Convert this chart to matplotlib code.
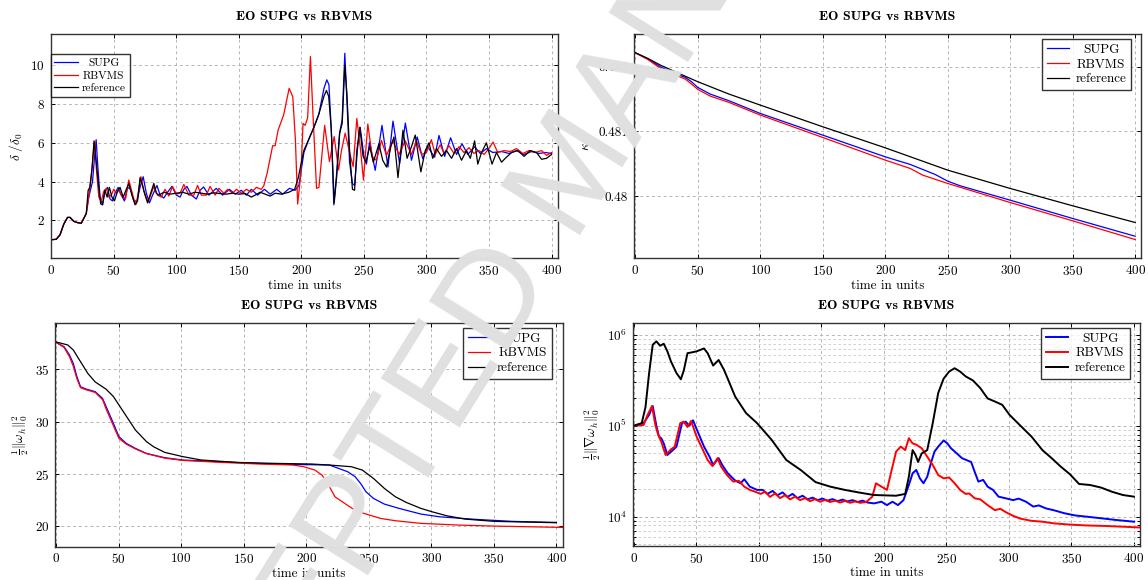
import matplotlib
matplotlib.use('Agg')
import matplotlib.pyplot as plt
import numpy as np
from matplotlib.ticker import LogLocator, NullFormatter

plt.rcParams.update({'font.size': 9.5, 'font.family': 'cmr10', 'mathtext.fontset': 'cm',
                     'axes.formatter.use_mathtext': True, 'axes.unicode_minus': False})

title = 'EO SUPG vs RBVMS'
xlab = 'time in units'
names = ['SUPG', 'RBVMS', 'reference']
colors = ['#0000ff', '#ff0000', '#000000']

# delta / delta_0  (time, value)
delta_supg = [(0, 1.0), (4, 1.02), (7, 1.25), (10, 1.8), (13, 2.15), (15, 2.15), (18, 1.95), (21, 1.88), (24, 1.85),
              (26, 2.1), (28, 2.35), (30, 3.2), (31.5, 3.6), (33, 4.0), (34.5, 5.2), (35.9, 6.16), (37, 5.0), (39, 3.2),
              (41, 2.8), (43, 3.5), (45, 3.7), (47, 3.1), (49, 3.0), (51, 3.4), (53.5, 3.7), (56, 3.3), (58.5, 3.0),
              (61, 3.7), (63.5, 3.6), (66, 3.0), (68.5, 3.0), (71, 3.7), (73.5, 4.25), (76, 3.4), (78.5, 2.9), (81, 3.3),
              (84.5, 3.8), (87, 3.3), (90, 3.15), (93, 3.45), (96.5, 3.75), (100, 3.3), (103, 3.2), (106, 3.6),
              (108.5, 3.75), (112, 3.3), (116, 3.1), (119, 3.55), (121.8, 3.72), (126, 3.3), (131.9, 3.65), (137, 3.3),
              (142.5, 3.6), (147, 3.35), (151.9, 3.55), (156, 3.3), (160, 3.6), (165, 3.3), (170.5, 3.6), (175, 3.35),
              (180.3, 3.6), (185, 3.35), (190.4, 3.65), (195, 3.55), (198, 3.8), (202, 5.5), (206, 6.2), (210, 6.8),
              (214, 7.5), (218, 8.8), (220.3, 9.25), (222, 9.0), (224, 6.5), (225.9, 2.8), (228, 4.3), (230.5, 6.5),
              (232.6, 7.2), (234.7, 10.62), (236.5, 8.0), (238.5, 5.0), (240.8, 3.9), (242.5, 3.8), (245, 5.8),
              (247, 6.8), (250, 5.3), (252, 4.9), (254.5, 6.04), (259, 4.58), (264.4, 6.9), (269.2, 4.75), (273.2, 7.12),
              (278.5, 4.92), (283.1, 7.02), (288, 5.1), (292.6, 6.3), (297, 5.18), (301, 5.8), (304, 5.5), (306.5, 5.26),
              (310, 6.38), (314.5, 5.3), (319.3, 6.26), (324, 5.4), (328.4, 5.95), (333, 5.4), (338.5, 5.8), (343, 5.45),
              (348, 5.7), (353, 5.5), (360, 5.55), (366, 5.45), (372, 5.6), (378, 5.4), (384, 5.55), (390, 5.45),
              (395, 5.5), (400, 5.45)]
delta_rbvms = [(0, 1.0), (4, 1.02), (7, 1.25), (10, 1.8), (13, 2.15), (15, 2.15), (18, 1.95), (21, 1.88), (24, 1.85),
               (26, 2.1), (28, 2.35), (29.5, 3.0), (30.5, 3.5), (32, 4.2), (33.5, 5.4), (34.8, 6.05), (36, 4.7), (38, 3.2),
               (40, 3.0), (42, 3.5), (44, 3.65), (46, 3.2), (48, 3.3), (50, 3.6), (52, 3.4), (54, 3.55), (56, 3.3),
               (59.4, 3.1), (62, 4.08), (64, 3.6), (66, 3.1), (68, 2.84), (71.7, 4.25), (74, 3.5), (77.5, 2.96), (80, 3.4),
               (82, 3.74), (85, 3.3), (88, 3.2), (91, 3.6), (94, 3.25), (97, 3.75), (100, 3.35), (103, 3.4), (106, 3.85),
               (110, 3.3), (114, 3.3), (117, 3.8), (120, 3.3), (124, 3.3), (127, 3.75), (131, 3.3), (134, 3.65),
               (138, 3.4), (141, 3.6), (145, 3.4), (148, 3.6), (152, 3.4), (156, 3.6), (160, 3.45), (164, 3.7),
               (168, 3.6), (170, 3.8), (172.6, 4.43), (177, 5.85), (179, 5.85), (181.4, 6.66), (185.8, 7.44),
               (190.2, 8.81), (193.1, 8.38), (195.2, 6.15), (197, 2.84), (199.6, 4.43), (201.3, 7.0), (203, 6.9),
               (205, 7.3), (207.2, 10.45), (209.2, 7.52), (212.1, 3.65), (214, 3.7), (216.5, 5.46), (218.6, 6.9),
               (220.5, 5.97), (222.4, 5.03), (226.2, 6.32), (229.7, 4.6), (232, 5.6), (235, 6.5), (238.5, 5.5),
               (241.4, 4.77), (244.3, 7.26), (247.3, 5.63), (249.6, 4.08), (253.1, 6.97), (256.6, 5.29), (260, 5.09),
               (264, 6.12), (268, 5.35), (273, 6.1), (278, 5.4), (283, 6.1), (288, 5.4), (292, 6.1), (296, 5.4),
               (300, 5.5), (303.9, 6.16), (307, 5.4), (311, 5.9), (314, 5.45), (318, 5.85), (322, 5.45), (326, 5.8),
               (330, 5.5), (334, 5.75), (338, 5.45), (342, 5.6), (346, 5.4), (350, 5.7), (353.2, 6.04), (357, 5.5),
               (362, 5.6), (367, 5.55), (372, 5.7), (377, 5.45), (382, 5.6), (387, 5.5), (392, 5.6), (396, 5.35),
               (400, 5.5)]
delta_ref = [(0, 1.0), (4, 1.02), (7, 1.25), (10, 1.8), (13, 2.15), (15, 2.15), (18, 1.95), (21, 1.88), (24, 1.85),
             (26, 2.1), (28, 2.35), (29.5, 3.55), (30.8, 3.7), (32.7, 4.75), (34.2, 6.1), (35.5, 5.3), (37.5, 4.0),
             (39.5, 2.85), (41, 2.8), (42.8, 3.55), (44.7, 3.2), (46.5, 3.7), (48.5, 3.2), (50.5, 3.0), (53, 3.5),
             (55, 3.7), (57.5, 3.2), (60, 3.6), (62, 3.9), (64.5, 3.3), (67, 2.8), (69, 3.0), (71, 4.2), (73, 3.8),
             (75, 3.3), (77, 2.9), (80, 3.5), (82, 3.9), (84, 3.4), (86, 3.3), (90, 3.45), (95, 3.35), (100, 3.4),
             (105, 3.45), (110, 3.35), (115, 3.45), (120, 3.4), (125, 3.35), (130, 3.42), (135, 3.38), (140, 3.35),
             (145, 3.4), (150, 3.35), (155, 3.38), (160, 3.2), (163, 3.3), (167, 3.45), (171, 3.35), (175, 3.25),
             (179, 3.4), (184, 3.35), (190, 3.45), (194.6, 3.6), (197.5, 4.2), (201.9, 5.6), (205.7, 6.15), (210, 6.8),
             (213.6, 7.4), (218, 8.4), (220, 8.7), (221.8, 8.4), (223.8, 6.8), (226.2, 2.9), (228.2, 4.25),
             (230.6, 6.5), (232.6, 7.0), (234.7, 10.0), (236.4, 8.5), (238.5, 5.6), (240.8, 3.6), (242.5, 3.55),
             (244.3, 5.6), (246.7, 6.8), (249.3, 5.3), (251.5, 5.0), (254.6, 5.8), (257.5, 5.0), (262, 5.95),
             (265, 5.1), (268, 4.75), (271.5, 5.8), (274, 6.3), (277.2, 4.2), (281.2, 6.65), (284.5, 5.2), (288, 5.8),
             (291, 6.4), (295.5, 4.5), (299, 5.6), (302, 6.0), (305, 5.2), (308, 5.7), (312, 5.3), (316, 5.6),
             (320, 5.2), (324, 5.7), (328, 5.1), (332, 5.6), (335, 5.2), (338.5, 6.1), (341, 4.9), (344, 5.5),
             (347.9, 6.0), (352.4, 4.9), (356, 5.5), (360, 5.0), (363, 5.2), (368, 5.5), (373, 5.6), (378, 5.3),
             (383, 5.6), (388, 5.5), (392, 5.15), (396, 5.2), (400, 5.4)]

# kappa
kappa_supg = [(0, 0.482216), (10, 0.482119), (20, 0.482), (30, 0.481907), (40, 0.481835), (45, 0.481768),
              (50, 0.48168), (60, 0.481577), (75, 0.481474), (100, 0.481278), (150, 0.480943), (200, 0.480608),
              (220, 0.48049), (240, 0.480335), (250, 0.480232), (260, 0.48016), (300, 0.479938), (350, 0.479655),
              (400, 0.479381)]
kappa_rbvms = [(0, 0.482216), (10, 0.482113), (20, 0.481974), (30, 0.481887), (40, 0.481809), (45, 0.481732),
               (50, 0.48165), (60, 0.481546), (75, 0.481448), (100, 0.481253), (150, 0.480907), (200, 0.480557),
               (220, 0.480428), (230, 0.480325), (250, 0.480196), (300, 0.479902), (350, 0.479619), (400, 0.47933)]
kappa_ref = [(0, 0.482216), (10, 0.482129), (20, 0.482026), (30, 0.481938), (50, 0.481768), (75, 0.481577),
             (100, 0.481407), (150, 0.481072), (200, 0.480747), (250, 0.480402), (300, 0.480119), (350, 0.479851),
             (400, 0.479593)]

# 1/2 ||omega_h||^2
ens_supg = [(0, 37.58), (6.4, 37.17), (10.8, 36.37), (13.8, 35.57), (16.7, 34.3), (19.6, 33.34), (24, 33.12),
            (31.3, 32.87), (37.2, 32.23), (40.1, 31.43), (45.9, 29.84), (50.3, 28.57), (56.2, 27.93), (63.5, 27.45),
            (72.3, 26.97), (86.9, 26.56), (101.5, 26.34), (130.8, 26.18), (160, 26.02), (189.3, 25.92),
            (218.6, 25.86), (233.2, 25.22), (239.1, 24.75), (243.5, 24.1), (247.8, 23.31), (253.7, 22.68),
            (262.5, 22.13), (274.2, 21.72), (291.7, 21.18), (306.4, 20.92), (335.6, 20.67), (364.9, 20.48),
            (400, 20.38)]
ens_rbvms = [(0, 37.58), (6.4, 37.1), (10.8, 36.2), (13.8, 35.3), (16.7, 34.1), (19.6, 33.25), (24, 33.05),
             (31.3, 32.8), (37.2, 32.1), (40.1, 31.2), (45.9, 29.6), (50.3, 28.4), (56.2, 27.85), (63.5, 27.4),
             (72.3, 26.95), (86.9, 26.52), (101.5, 26.3), (130.8, 26.12), (160, 25.97), (189.3, 25.86),
             (198.1, 25.7), (206.9, 25.38), (212.7, 24.9), (218.6, 23.79), (223, 22.83), (228.8, 22.36),
             (234.7, 21.88), (240.5, 21.46), (247.8, 21.18), (259.5, 20.76), (271.3, 20.54), (291.7, 20.29),
             (321, 20.13), (350.3, 20.03), (405, 19.9)]
ens_ref = [(0, 37.62), (9.4, 37.33), (13.8, 36.85), (19.6, 35.73), (25.5, 34.6), (31.3, 33.8), (40.1, 33.1),
           (45.9, 32.4), (54.7, 30.8), (63.5, 29.2), (72.3, 28.1), (78.1, 27.6), (86.9, 27.07), (101.5, 26.66),
           (116.2, 26.34), (145.4, 26.11), (174.7, 26.02), (204, 25.96), (218.6, 25.86), (236.1, 25.7),
           (244.9, 25.38), (253.7, 24.59), (262.5, 23.63), (271.3, 22.83), (280, 22.29), (291.7, 21.72),
           (300.5, 21.4), (312.2, 21.02), (326.8, 20.7), (350.3, 20.48), (400, 20.35)]

# 1/2 ||grad omega_h||^2
pal_supg = [(0, 1.0e5), (7.9, 1.07e5), (12.3, 1.32e5), (15.2, 1.65e5), (18.1, 1.0e5), (20.2, 7.6e4), (22, 7.3e4),
            (24, 6.4e4), (26.9, 4.77e4), (31.3, 5.4e4), (34.2, 5.9e4), (38.6, 1.07e5), (41.5, 1.11e5), (44.5, 1.0e5),
            (47.4, 1.15e5), (51.8, 8.2e4), (56.2, 5.9e4), (60.6, 4.57e4), (63.5, 3.7e4), (67.9, 4.4e4), (70.8, 3.7e4),
            (75.2, 3.0e4), (81.1, 2.5e4), (85.4, 2.33e4), (88.4, 2.58e4), (92.8, 2.14e4), (98.6, 1.97e4),
            (103, 1.97e4), (107, 1.78e4), (111, 1.92e4), (115, 1.72e4), (119, 1.85e4), (123, 1.65e4), (127, 1.78e4),
            (131, 1.6e4), (135, 1.7e4), (139, 1.55e4), (143, 1.62e4), (147, 1.52e4), (151, 1.58e4), (155, 1.5e4),
            (159, 1.56e4), (163, 1.48e4), (167, 1.54e4), (171, 1.47e4), (175, 1.52e4), (179, 1.45e4), (183, 1.5e4),
            (187, 1.43e4), (192.2, 1.4e4), (198.1, 1.46e4), (202.5, 1.34e4), (206.9, 1.46e4), (211.3, 1.34e4),
            (215.7, 1.52e4), (220, 2.23e4), (223, 3.0e4), (225.9, 3.27e4), (228.8, 2.64e4), (231.7, 2.33e4),
            (234.7, 2.75e4), (237.6, 3.87e4), (240.5, 5.2e4), (243.5, 5.9e4), (247.8, 6.9e4), (250.8, 6.4e4),
            (253.7, 5.66e4), (258.1, 5.0e4), (262.5, 4.4e4), (266.9, 4.15e4), (269.8, 4.0e4), (272.7, 3.1e4),
            (275.6, 2.43e4), (279.4, 2.54e4), (283, 2.14e4), (287.3, 1.97e4), (291.7, 1.66e4), (297.6, 1.59e4),
            (303.4, 1.52e4), (307.8, 1.58e4), (313.7, 1.46e4), (319.5, 1.29e4), (323.9, 1.33e4), (329.8, 1.23e4),
            (335.6, 1.18e4), (344.4, 1.09e4), (353.2, 1.03e4), (362, 1.0e4), (373.7, 9.6e3), (385.4, 9.2e3),
            (400, 8.8e3)]
pal_rbvms = [(0, 1.0e5), (7.9, 1.02e5), (10.8, 1.29e5), (14.6, 1.65e5), (17.3, 1.02e5), (19.5, 8.0e4), (22, 6.7e4),
             (25.5, 4.77e4), (29.8, 5.5e4), (32.8, 5.9e4), (37.2, 1.07e5), (40.1, 1.11e5), (43, 9.7e4), (45.9, 1.13e5),
             (50.3, 7.6e4), (54.7, 5.66e4), (59.1, 4.2e4), (63, 3.6e4), (67, 4.4e4), (69.9, 3.55e4), (74.6, 2.87e4),
             (79.6, 2.43e4), (84, 2.48e4), (88.4, 2.14e4), (92.8, 1.97e4), (97.1, 1.88e4), (101.5, 1.78e4),
             (105, 1.88e4), (109, 1.65e4), (113, 1.8e4), (117, 1.6e4), (121, 1.72e4), (125, 1.55e4), (129, 1.66e4),
             (133, 1.52e4), (137, 1.6e4), (141, 1.48e4), (145, 1.56e4), (149, 1.46e4), (153, 1.53e4), (157, 1.45e4),
             (161, 1.5e4), (165, 1.43e4), (169, 1.49e4), (173, 1.42e4), (177, 1.47e4), (181, 1.42e4), (186, 1.45e4),
             (190.8, 1.66e4), (193.7, 2.33e4), (198.1, 2.14e4), (202.5, 1.97e4), (206.9, 3.55e4), (209.8, 5.2e4),
             (213.6, 5.9e4), (217.1, 5.4e4), (220, 7.3e4), (223, 6.4e4), (225.9, 6.2e4), (230.3, 5.66e4),
             (234.7, 4.57e4), (239.1, 3.7e4), (243.5, 2.87e4), (247.8, 2.64e4), (252.2, 2.7e4), (256.6, 2.33e4),
             (261, 1.97e4), (265.4, 1.78e4), (268.3, 1.8e4), (272.7, 1.59e4), (277.1, 1.55e4), (283, 1.34e4),
             (288.8, 1.18e4), (293.1, 1.22e4), (297.6, 1.12e4), (303.4, 1.02e4), (309.3, 9.5e3), (318, 9.0e3),
             (326.8, 8.8e3), (335.6, 8.45e3), (347.3, 8.2e3), (362, 8.0e3), (376.6, 7.9e3), (391.2, 7.75e3),
             (405, 7.6e3)]
pal_ref = [(0, 1.0e5), (6.4, 1.07e5), (9.4, 1.6e5), (12.3, 3.8e5), (15.2, 7.8e5), (18.1, 8.5e5), (21.1, 7.6e5),
           (24, 8.0e5), (26.9, 6.6e5), (29.8, 5.1e5), (34.2, 3.8e5), (37.7, 3.25e5), (40.1, 4.1e5), (43, 6.3e5),
           (45.9, 6.4e5), (50.3, 6.6e5), (56.2, 7.1e5), (59.1, 6.3e5), (63.5, 4.6e5), (67.9, 5.3e5), (72.3, 4.1e5),
           (81.1, 2.1e5), (89.8, 1.38e5), (98.6, 1.07e5), (110.3, 7.0e4), (122, 4.2e4), (133.7, 3.25e4),
           (145.4, 2.4e4), (157.1, 2.14e4), (168.8, 1.97e4), (180.5, 1.84e4), (192.2, 1.73e4), (209.8, 1.7e4),
           (217.1, 1.78e4), (220, 2.75e4), (223, 5.4e4), (225.3, 4.77e4), (227.4, 4.0e4), (230.3, 4.97e4),
           (234.7, 5.4e4), (239.1, 1.07e5), (243.5, 2.3e5), (247.8, 3.3e5), (252.2, 3.95e5), (256.6, 4.3e5),
           (261, 3.95e5), (265.4, 3.5e5), (271.3, 3.15e5), (277.1, 2.6e5), (283, 2.0e5), (288.8, 1.85e5),
           (294.7, 1.7e5), (300.5, 1.32e5), (309.3, 1.0e5), (318.1, 7.6e4), (326.8, 5.4e4), (334.2, 4.4e4),
           (341.5, 3.55e4), (348.8, 2.93e4), (356.1, 2.29e4), (364.9, 2.23e4), (373.7, 2.09e4), (382.4, 1.88e4),
           (391.2, 1.73e4), (400, 1.66e4)]

fig = plt.figure(figsize=(11.48, 5.8), dpi=100)
W, H = 1148, 580


def box(l, r, t, b):
    return [l / W, 1 - b / H, (r - l) / W, (b - t) / H]


ax1 = fig.add_axes(box(50.5, 558.2, 34.3, 258.3))
ax2 = fig.add_axes(box(633.7, 1141.4, 34.3, 258.3))
ax3 = fig.add_axes(box(54.9, 562.6, 323.3, 546.7))
ax4 = fig.add_axes(box(632.6, 1140.2, 323.3, 546.0))

series = [(ax1, [delta_supg, delta_rbvms, delta_ref], 0.9),
          (ax2, [kappa_supg, kappa_rbvms, kappa_ref], 0.9),
          (ax3, [ens_supg, ens_rbvms, ens_ref], 0.9),
          (ax4, [pal_supg, pal_rbvms, pal_ref], 1.4)]
for ax, data, lw in series:
    for d, c, n in zip(data, colors, names):
        d = np.array(d)
        ax.plot(d[:, 0], d[:, 1], color=c, lw=lw, label=n)

ax4.set_yscale('log')
ax4.yaxis.set_minor_locator(LogLocator(base=10, subs=np.arange(2, 10)))
ax4.yaxis.set_minor_formatter(NullFormatter())

ax1.set_xlim(-0.6, 405.3)
ax1.set_ylim(0.04, 11.6)
ax1.set_yticks([2, 4, 6, 8, 10])
ax2.set_xlim(-1.2, 405)
ax2.set_ylim(0.47904, 0.4825)
ax2.set_yticks([0.48, 0.481, 0.482])
ax2.set_yticklabels(['0.48', '0.481', '0.482'])
ax3.set_xlim(-0.9, 405)
ax3.set_ylim(18.06, 39.4)
ax3.set_yticks([20, 25, 30, 35])
ax4.set_xlim(-0.9, 405)
ax4.set_ylim(10 ** 3.677, 10 ** 6.128)

ylabels = [r'$\delta\ /\delta_0$', r'$\kappa$', r'$\frac{1}{2}\|\omega_h\|_0^2$',
           r'$\frac{1}{2}\|\nabla\omega_h\|_0^2$']
ylabx = [-0.05, -0.082, -0.047, -0.058]
for ax, yl, yx in zip([ax1, ax2, ax3, ax4], ylabels, ylabx):
    ax.set_xticks([0, 50, 100, 150, 200, 250, 300, 350, 400])
    ax.grid(True, which='major', ls=(0, (3, 3)), color='#b5b5b5', lw=0.7)
    ax.tick_params(which='both', direction='in', top=True, right=True, length=3, width=0.7, labelsize=9.5, pad=4)
    ax.tick_params(which='minor', length=2)
    for s in ax.spines.values():
        s.set_color('#333333')
        s.set_linewidth(1.0)
    ax.set_ylabel(yl, fontsize=9.5)
    ax.yaxis.set_label_coords(yx, 0.5)
    ax.set_xlabel(xlab, fontsize=9.5)
    ax.xaxis.set_label_coords(0.5, -0.095)
    ax.text(0.5, 1.077, title, transform=ax.transAxes, ha='center', va='center',
            fontsize=10, family='cmb10')
ax4.grid(True, which='minor', ls=(0, (3, 3)), color='#c8c8c8', lw=0.6)

legs = [ax1.legend(loc='upper left', bbox_to_anchor=(0.0, 0.913), fontsize=8.2, handlelength=2.1,
                   handletextpad=0.3, borderaxespad=0, labelspacing=0.25, borderpad=0.35)]
for ax in [ax2, ax3, ax4]:
    legs.append(ax.legend(loc='upper right', bbox_to_anchor=(0.98, 0.98), fontsize=9.5, handlelength=1.7,
                          handletextpad=0.5, borderaxespad=0, labelspacing=0.2, borderpad=0.35))
for leg in legs:
    fr = leg.get_frame()
    fr.set_edgecolor('black')
    fr.set_linewidth(1.0)
    fr.set_boxstyle('square', pad=0)
    leg.set_zorder(20)

fig.canvas.draw()
for leg in legs:
    ws = [t.get_window_extent().width for t in leg.get_texts()]
    for t, w in zip(leg.get_texts(), ws):
        t.set_x((max(ws) - w) / 2)

# watermark
fig.text(0.503, 0.70, 'ACCEPTED MANUSCRIPT', rotation=58, fontsize=98, color='#e0e0e0',
         ha='center', va='center', rotation_mode='anchor', family='Liberation Sans', zorder=100)

fig.savefig('out.png', dpi=100)
